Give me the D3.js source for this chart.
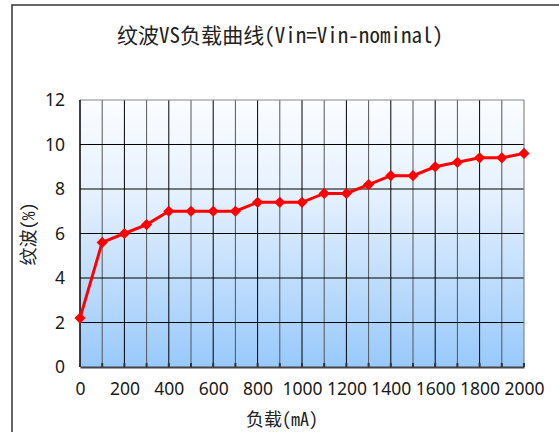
<!DOCTYPE html>
<html><head><meta charset="utf-8">
<script src="https://cdn.jsdelivr.net/npm/d3@7"></script>
<style>
html,body{margin:0;padding:0;background:#fff;}
svg{display:block;}
</style></head>
<body>
<svg id="c" width="559" height="432"></svg>
<script>
const loads = [0,100,200,300,400,500,600,700,800,900,1000,1100,1200,1300,1400,1500,1600,1700,1800,1900,2000];
const ripple = [2.2,5.6,6.0,6.4,7.0,7.0,7.0,7.0,7.4,7.4,7.4,7.8,7.8,8.2,8.6,8.6,9.0,9.2,9.4,9.4,9.6];
const xTicks = [0,200,400,600,800,1000,1200,1400,1600,1800,2000];
const yTicks = [0,2,4,6,8,10,12];
const titleText = "纹波VS负载曲线(Vin=Vin-nominal)";
const xTitle = "负载(mA)";
const yTitle = "纹波(%)";

const svg = d3.select("#c");
const L = 80, R = 524, T = 100, B = 367;
const x = d3.scaleLinear().domain([0,2000]).range([L,R]);
const y = d3.scaleLinear().domain([0,12]).range([B,T]);
const tickFont = "'Noto Sans','Open Sans',sans-serif";
const cjkMono = "'Noto Sans Mono CJK SC','Noto Sans CJK SC',monospace";

// outer frame
svg.append("rect").attr("x",12).attr("y",5).attr("width",600).attr("height",500)
  .attr("fill","none").attr("stroke","#333").attr("stroke-width",1.5);

// gradient
const defs = svg.append("defs");
const g = defs.append("linearGradient").attr("id","bg").attr("x1",0).attr("y1",0).attr("x2",0).attr("y2",1);
g.append("stop").attr("offset","0%").attr("stop-color","#fbfdff");
g.append("stop").attr("offset","35%").attr("stop-color","#e6f1fe");
g.append("stop").attr("offset","100%").attr("stop-color","#98c9fb");
svg.append("rect").attr("x",L).attr("y",T).attr("width",R-L).attr("height",B-T).attr("fill","url(#bg)");

// grid
const hundreds = d3.range(100,2000,100);
svg.append("g").selectAll("line").data(hundreds).join("line")
  .attr("x1",d=>x(d)).attr("x2",d=>x(d)).attr("y1",T).attr("y2",B)
  .attr("stroke",d=>d%200===0?"#000":"#555").attr("stroke-width",1);
svg.append("g").selectAll("line").data(yTicks.slice(1,-1)).join("line")
  .attr("x1",L).attr("x2",R).attr("y1",d=>y(d)).attr("y2",d=>y(d))
  .attr("stroke","#000").attr("stroke-width",1);

// frame of plot
svg.append("line").attr("x1",L).attr("x2",R).attr("y1",T).attr("y2",T).attr("stroke","#888").attr("stroke-width",1.2);
svg.append("line").attr("x1",R).attr("x2",R).attr("y1",T).attr("y2",B).attr("stroke","#888").attr("stroke-width",1.2);
svg.append("line").attr("x1",L).attr("x2",L).attr("y1",T).attr("y2",B).attr("stroke","#000").attr("stroke-width",1.5);

// axes
const xAxis = svg.append("g").attr("transform",`translate(0,${B})`)
  .call(d3.axisBottom(x).tickValues(xTicks).tickSize(0).tickPadding(16).tickFormat(d3.format("d")));
xAxis.select(".domain").attr("stroke","#444").attr("stroke-width",2);
xAxis.selectAll("text").attr("font-family",tickFont).attr("font-size",17.5).attr("fill","#1a1a1a");
svg.append("g").selectAll("line").data(loads).join("line")
  .attr("x1",d=>x(d)).attr("x2",d=>x(d)).attr("y1",B-4).attr("y2",B).attr("stroke","#333").attr("stroke-width",2);

const yAxis = svg.append("g").attr("transform",`translate(${L},0)`)
  .call(d3.axisLeft(y).tickValues(yTicks).tickSize(0).tickPadding(15));
yAxis.select(".domain").remove();
yAxis.selectAll("text").attr("font-family",tickFont).attr("font-size",17.5).attr("fill","#1a1a1a");

// titles
svg.append("text").attr("x",117).attr("y",43)
  .attr("textLength",326).attr("lengthAdjust","spacing")
  .attr("font-family",cjkMono).attr("font-weight",300).attr("font-size",21).attr("fill","#222").text(titleText);
svg.append("text").attr("x",282).attr("y",426).attr("text-anchor","middle")
  .attr("font-family",cjkMono).attr("font-weight",300).attr("font-size",18).attr("fill","#222").text(xTitle);
svg.append("text").attr("transform","translate(35,234) rotate(-90)").attr("text-anchor","middle")
  .attr("font-family",cjkMono).attr("font-weight",300).attr("font-size",18).attr("fill","#222").text(yTitle);

// line
const pts = loads.map((d,i)=>[d,ripple[i]]);
svg.append("path").datum(pts)
  .attr("d",d3.line().x(d=>x(d[0])).y(d=>y(d[1])))
  .attr("fill","none").attr("stroke","#ff0000").attr("stroke-width",3);
svg.append("g").selectAll("path").data(pts).join("path")
  .attr("d",d3.symbol().type(d3.symbolDiamond2).size(80))
  .attr("transform",d=>`translate(${x(d[0])},${y(d[1])})`)
  .attr("fill","#ff0000");
</script>
</body></html>
